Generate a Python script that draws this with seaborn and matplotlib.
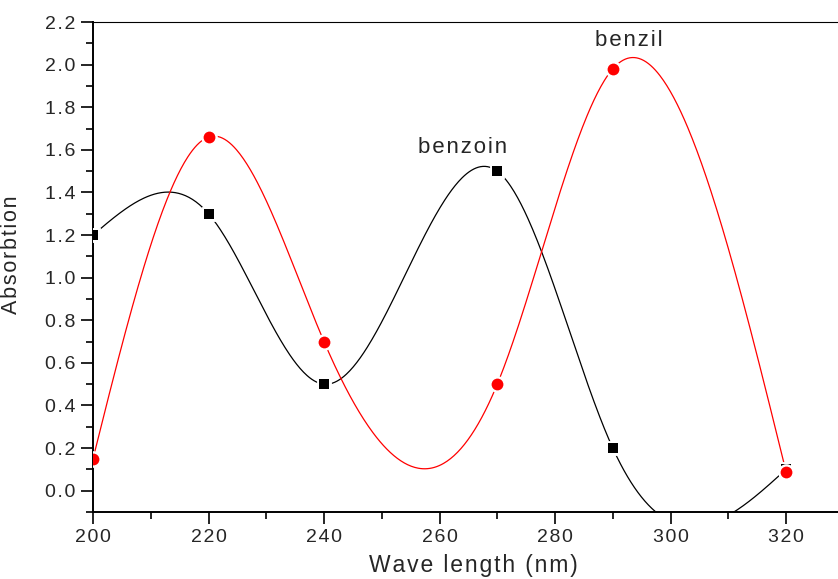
import numpy as np
import matplotlib
matplotlib.use('Agg')
import matplotlib.pyplot as plt
import seaborn as sns
from matplotlib.ticker import MultipleLocator, FuncFormatter

# 데이터
wave = [200, 220, 240, 270, 290, 320]
benzoin = [1.20, 1.30, 0.50, 1.50, 0.20, 0.10]
benzil = [0.15, 1.66, 0.70, 0.50, 1.98, 0.09]


def natural_spline(x, y, xs):
    # 자연 3차 스플라인 (연결선 그리기용)
    x = np.asarray(x, float)
    y = np.asarray(y, float)
    n = len(x)
    h = np.diff(x)
    A = np.zeros((n, n))
    b = np.zeros(n)
    A[0, 0] = 1
    A[-1, -1] = 1
    for i in range(1, n - 1):
        A[i, i - 1] = h[i - 1]
        A[i, i] = 2 * (h[i - 1] + h[i])
        A[i, i + 1] = h[i]
        b[i] = 6 * ((y[i + 1] - y[i]) / h[i] - (y[i] - y[i - 1]) / h[i - 1])
    M = np.linalg.solve(A, b)
    idx = np.clip(np.searchsorted(x, xs) - 1, 0, n - 2)
    x0, x1 = x[idx], x[idx + 1]
    hh = x1 - x0
    t0 = x1 - xs
    t1 = xs - x0
    return (M[idx] * t0 ** 3 / (6 * hh) + M[idx + 1] * t1 ** 3 / (6 * hh)
            + (y[idx] / hh - M[idx] * hh / 6) * t0
            + (y[idx + 1] / hh - M[idx + 1] * hh / 6) * t1)


def spaced(s):
    # 글자 사이 간격 넓히기 (hair space)
    return '\u200a'.join(s)


sns.set_style('ticks')
plt.rcParams['font.family'] = ['Liberation Sans', 'DejaVu Sans']

fig = plt.figure(figsize=(8.38, 5.79), dpi=100)
ax = fig.add_axes([0.111, 0.1157, 0.889, 0.8463])

xs = np.linspace(200, 320, 600)
sns.lineplot(x=xs, y=natural_spline(wave, benzoin, xs), color='black', lw=0.9, ax=ax)
sns.lineplot(x=xs, y=natural_spline(wave, benzil, xs), color='red', lw=0.9, ax=ax)

# 마커 주변 흰 테두리 -> 선이 끊겨 보이도록
ax.plot(wave, benzoin, 's', color='black', ms=7.5, mec='white', mew=3.5, zorder=3)
ax.plot(wave, benzil, 'o', color='red', ms=8.5, mec='white', mew=3.5, zorder=4)
ax.plot(wave, benzoin, 's', color='black', ms=7.5, mew=0, zorder=3.5)
ax.plot(wave, benzil, 'o', color='red', ms=8.5, mew=0, zorder=4.5)

ax.text(264, 1.61, spaced('benzoin'), fontsize=16, ha='center', va='center')
ax.text(292.8, 2.115, spaced('benzil'), fontsize=16, ha='center', va='center')

ax.set_xlim(200, 329)
ax.set_ylim(-0.1, 2.2)
ax.xaxis.set_major_locator(MultipleLocator(20))
ax.xaxis.set_minor_locator(MultipleLocator(10))
ax.yaxis.set_major_locator(MultipleLocator(0.2))
ax.yaxis.set_minor_locator(MultipleLocator(0.1))
ax.xaxis.set_major_formatter(FuncFormatter(lambda v, p: spaced('{:.0f}'.format(v))))
ax.yaxis.set_major_formatter(FuncFormatter(lambda v, p: spaced('{:.1f}'.format(abs(v) if abs(v) < 1e-9 else v))))

ax.tick_params(which='major', direction='out', length=8.5, width=1.2, labelsize=14,
               color='black', pad=4)
ax.tick_params(which='minor', direction='out', length=5, width=1.2, color='black')
ax.tick_params(top=False, right=False, which='both')

for s in ['left', 'bottom']:
    ax.spines[s].set_linewidth(1.4)
    ax.spines[s].set_color('black')
ax.spines['top'].set_linewidth(0.8)
ax.spines['top'].set_color('black')
ax.spines['right'].set_visible(False)

ax.set_xlabel(spaced('Wave length (nm)'), fontsize=16.5)
ax.set_ylabel(spaced('Absorbtion'), fontsize=15.5)
ax.xaxis.set_label_coords(0.511, -0.086)
ax.yaxis.set_label_coords(-0.095, 0.524)

plt.savefig('out.png', dpi=100)
